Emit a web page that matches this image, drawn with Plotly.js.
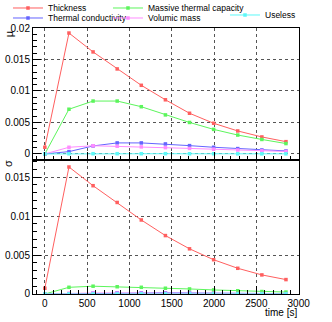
<!DOCTYPE html>
<html>
<head>
<meta charset="utf-8">
<script src="https://cdn.plot.ly/plotly-3.0.1.min.js"></script>
<style>
    html, body { margin: 0; padding: 0; background: #fff; }
    #graphCanvas { width: 332px; height: 322px; }
</style>
</head>
<body>
<div id="graphCanvas"></div>
<script>
// время, с
const time = [0, 285, 570, 855, 1140, 1425, 1710, 1995, 2280, 2565, 2850];
const timeTicks = [0, 500, 1000, 1500, 2000, 2500, 3000];

// верхняя панель: mu
const muThickness    = [0.00106, 0.0192, 0.0162, 0.0135, 0.0109, 0.0086, 0.00646, 0.00487, 0.00365, 0.0027, 0.00195];
const muConductivity = [0, 0.00037, 0.00127, 0.00175, 0.00175, 0.00159, 0.00132, 0.00106, 0.00085, 0.00063, 0.00048];
const muCapacity     = [0, 0.0071, 0.0084, 0.0084, 0.0075, 0.0062, 0.0050, 0.0039, 0.0030, 0.0023, 0.00165];
const muVolumic      = [0, 0.00106, 0.0013, 0.00122, 0.00112, 0.0010, 0.00088, 0.00075, 0.00062, 0.0005, 0.0004];
const muUseless      = [0, 0.00003, 0.00004, 0.00004, 0.00004, 0.00004, 0.00003, 0.00003, 0.00002, 0.00002, 0.00002];

// нижняя панель: sigma
const sgThickness    = [0.00074, 0.0163, 0.0139, 0.01175, 0.0095, 0.0075, 0.0058, 0.0044, 0.0033, 0.00245, 0.00185];
const sgConductivity = [0, 0.00004, 0.00012, 0.00016, 0.00016, 0.00015, 0.00013, 0.0001, 0.00008, 0.00006, 0.00005];
const sgCapacity     = [0, 0.00086, 0.001, 0.00093, 0.00086, 0.00074, 0.00065, 0.00052, 0.00042, 0.00032, 0.00025];
const sgVolumic      = [0, 0.0001, 0.00013, 0.00012, 0.00011, 0.0001, 0.00009, 0.00008, 0.00006, 0.00005, 0.00004];
const sgUseless      = [0, 0.00001, 0.00001, 0.00001, 0.00001, 0.00001, 0.00001, 0.00001, 0.00001, 0.00001, 0.00001];

const seriesNames = ['Thickness', 'Thermal conductivity', 'Massive thermal capacity', 'Volumic mass', 'Useless'];
const seriesColors = ['#ff5f5f', '#6464ff', '#5cf55c', '#ff8cff', '#5cf8f8'];
const legendIds = ['legend', 'legend2', 'legend3', 'legend4', 'legend5'];

function makeTrace(y, i, top)
{
    return {
        x: time, y: y,
        type: 'scatter',
        mode: 'lines+markers',
        name: seriesNames[i],
        line: { color: seriesColors[i], width: 1 },
        marker: { color: seriesColors[i], size: 3.5, symbol: 'square' },
        // последний ряд нижней панели висит на оси x3 (только мелкие штрихи)
        xaxis: top ? 'x2' : (i === 4 ? 'x3' : 'x'),
        yaxis: top ? 'y2' : 'y',
        showlegend: top,
        legend: legendIds[i]
    };
}

function makeLegend(x, y)
{
    return {
        x: x, y: y, xanchor: 'left', yanchor: 'middle',
        orientation: 'h',
        bgcolor: 'rgba(0,0,0,0)',
        borderwidth: 0,
        itemwidth: 30,
        font: { family: 'Liberation Sans, Arial, sans-serif', size: 8.5, color: '#000' }
    };
}

const tickFont = { family: 'Liberation Sans, Arial, sans-serif', size: 10, color: '#000' };
const xRange = [-140, 3004];

function yAxis(domain, range)
{
    return {
        domain: domain, range: range,
        dtick: 0.005, tick0: 0,
        ticks: 'inside', ticklen: 8, tickcolor: '#000', tickwidth: 1,
        minor: { dtick: 0.001, ticks: 'inside', ticklen: 4, tickcolor: '#000', showgrid: false },
        showgrid: true, gridcolor: '#555', griddash: 'dot', gridwidth: 1,
        zeroline: false,
        showline: true, linecolor: '#000', linewidth: 1, mirror: true,
        tickfont: tickFont
    };
}

function xAxis(anchor, labels)
{
    const ax = {
        anchor: anchor, range: xRange,
        tickmode: 'array', tickvals: timeTicks, ticktext: timeTicks.map(String),
        ticks: 'inside', ticklen: 8, tickcolor: '#000', tickwidth: 1,
        showgrid: true, gridcolor: '#555', griddash: 'dot', gridwidth: 1,
        zeroline: false,
        showline: true, linecolor: '#000', linewidth: 1, mirror: true,
        showticklabels: labels,
        ticklabeloverflow: 'allow',
        tickfont: tickFont
    };
    if (!labels) {
        ax.minor = { dtick: 100, tick0: 0, ticks: 'inside', ticklen: 4, tickcolor: '#000', showgrid: false };
    }
    return ax;
}

function showAllTimeLabels(plotlyDiv)         // подпись 3000 на краю оси иногда прячется
{
    plotlyDiv.querySelectorAll('.xtick, .xtick text').forEach(el => {
        el.style.display = '';
        el.style.opacity = 1;
        el.style.visibility = 'visible';
    });
}

document.addEventListener('DOMContentLoaded', () => {
    const plotlyDiv = document.getElementById('graphCanvas');

    const muData = [muThickness, muConductivity, muCapacity, muVolumic, muUseless];
    const sgData = [sgThickness, sgConductivity, sgCapacity, sgVolumic, sgUseless];

    const traces = [];
    muData.forEach((y, i) => traces.push(makeTrace(y, i, true)));
    sgData.forEach((y, i) => traces.push(makeTrace(y, i, false)));

    const split = 0.5038;
    const xaxis2 = xAxis('y2', false);
    xaxis2.matches = 'x';

    // мелкие штрихи нижней оси отдельной накладной осью
    const xaxis3 = {
        overlaying: 'x', anchor: 'y', matches: 'x', range: xRange,
        dtick: 100, tick0: 0,
        ticks: 'inside', ticklen: 4, tickcolor: '#000', tickwidth: 1,
        showticklabels: false, showgrid: false, showline: false, zeroline: false
    };

    const annFont = { family: 'Liberation Sans, Arial, sans-serif', size: 11, color: '#000' };

    Plotly.newPlot(plotlyDiv, traces, {
        width: 332, height: 322,
        margin: { t: 28, l: 33, r: 33, b: 28, autoexpand: false },
        paper_bgcolor: '#fff', plot_bgcolor: '#fff',
        xaxis: xAxis('y', true),
        xaxis2: xaxis2,
        xaxis3: xaxis3,
        yaxis: yAxis([0, split], [0, 0.0172]),
        yaxis2: yAxis([split, 1], [-0.00096, 0.02]),
        legend:  makeLegend(-0.094, 1.0752),
        legend2: makeLegend(-0.094, 1.0376),
        legend3: makeLegend(0.2819, 1.0752),
        legend4: makeLegend(0.2819, 1.0376),
        legend5: makeLegend(0.7218, 1.0489),
        annotations: [
            { text: 'μ', xref: 'paper', yref: 'paper', x: -0.092, y: 0.975, textangle: -90,
              showarrow: false, font: annFont, xanchor: 'center', yanchor: 'middle' },
            { text: 'σ', xref: 'paper', yref: 'paper', x: -0.094, y: 0.4925, textangle: -90,
              showarrow: false, font: annFont, xanchor: 'center', yanchor: 'middle' },
            { text: 'time [s]', xref: 'paper', yref: 'paper', x: 1, y: -0.0677,
              showarrow: false, font: { family: 'Liberation Sans, Arial, sans-serif', size: 10, color: '#000' },
              xanchor: 'right', yanchor: 'middle' }
        ],
        showlegend: true
    }, { displayModeBar: false, responsive: false })
        .then(() => showAllTimeLabels(plotlyDiv));
});
</script>
</body>
</html>
